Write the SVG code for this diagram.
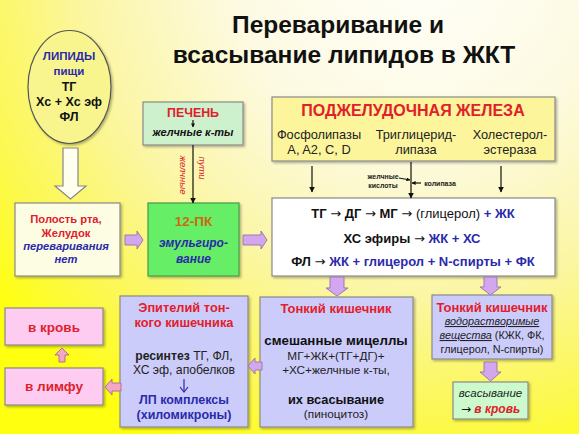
<svg xmlns="http://www.w3.org/2000/svg" width="579" height="434" viewBox="0 0 579 434">
<defs>
<radialGradient id="bg" gradientUnits="userSpaceOnUse" cx="420" cy="-40" r="540">
<stop offset="0" stop-color="#fffffa"/>
<stop offset="0.35" stop-color="#fdfae2"/>
<stop offset="0.62" stop-color="#fbf6a4"/>
<stop offset="0.85" stop-color="#fcf850"/>
<stop offset="1" stop-color="#ffff10"/>
</radialGradient>
<filter id="sh" x="-10%" y="-10%" width="125%" height="125%">
<feDropShadow dx="1.5" dy="1.5" stdDeviation="1" flood-color="#000" flood-opacity="0.3"/>
</filter>
<marker id="ah" viewBox="0 0 10 10" refX="9" refY="5" markerWidth="6" markerHeight="6" orient="auto" markerUnits="userSpaceOnUse">
<path d="M0,0 L10,5 L0,10 z" fill="#111"/>
</marker>
<marker id="ahs" viewBox="0 0 10 10" refX="9" refY="5" markerWidth="4" markerHeight="4" orient="auto" markerUnits="userSpaceOnUse">
<path d="M0,0 L10,5 L0,10 z" fill="#111"/>
</marker>
</defs>
<style>
text{font-family:"Liberation Sans",Arial,sans-serif;text-anchor:middle}
.b{font-weight:bold}
.i{font-style:italic}
.r{fill:#e0202c}
.bl{fill:#2a2aaa}
.k{fill:#111}
.ar{font-family:"DejaVu Sans",sans-serif;font-weight:normal}
.box{stroke:#8a8a8a;stroke-width:1.2;filter:url(#sh)}
.pa{fill:#d3a6f0;stroke:#9a7ab0;stroke-width:1}
.pk{fill:#f4a6c8;stroke:#b07090;stroke-width:1}
.ln{stroke:#111;stroke-width:1.2;fill:none}
</style>
<rect x="0" y="0" width="579" height="434" fill="url(#bg)"/>

<g id="title">
<text x="338" y="33" font-size="24.5" class="b" fill="#111">Переваривание и</text>
<text x="344" y="63" font-size="24.5" class="b" fill="#111">всасывание липидов в ЖКТ</text>
</g>

<g id="lipids">
<ellipse cx="69.5" cy="87" rx="41.5" ry="56.5" fill="#f9f58e" stroke="#555" stroke-width="1.2" filter="url(#sh)"/>
<text x="69" y="60" font-size="11.5" class="b bl">ЛИПИДЫ</text>
<text x="69" y="75" font-size="11.5" class="b bl">пищи</text>
<text x="69" y="91" font-size="12.5" class="b k">ТГ</text>
<text x="69" y="106" font-size="12.5" class="b k">Хс + Хс эф</text>
<text x="69" y="121" font-size="12.5" class="b k">ФЛ</text>
</g>

<g id="mouth">
<rect x="15" y="203" width="105" height="73" fill="#fdfde4" class="box"/>
<text x="66" y="223" font-size="11.2" class="b r">Полость рта,</text>
<text x="66" y="237" font-size="11.2" class="b r">Желудок</text>
<text x="66" y="250" font-size="11.2" class="b i bl">переваривания</text>
<text x="66" y="263" font-size="11.2" class="b i bl">нет</text>
</g>

<g id="liver">
<rect x="143" y="102" width="100" height="43" fill="#cdf0cd" class="box"/>
<text x="193" y="117" font-size="12.4" class="b r">ПЕЧЕНЬ</text>
<text x="193" y="136" font-size="11" class="b i k">желчные к-ты</text>
</g>

<g id="duodenum">
<rect x="148" y="203" width="91" height="73" fill="#66ee66" stroke="#4a9a4a" stroke-width="1.2" filter="url(#sh)"/>
<text x="193.5" y="226" font-size="13.5" class="b" fill="#cc6a10">12-ПК</text>
<text x="193.5" y="247" font-size="12" class="b i bl">эмульгиро-</text>
<text x="193.5" y="263" font-size="12" class="b i bl">вание</text>
</g>

<g id="pancreas">
<rect x="272" y="97" width="283" height="64" fill="#fcf59c" class="box"/>
<text x="413" y="116" font-size="16" class="b r">ПОДЖЕЛУДОЧНАЯ ЖЕЛЕЗА</text>
<text x="319" y="139" font-size="12.8" fill="#222">Фосфолипазы</text>
<text x="319" y="154" font-size="12.8" fill="#222">A, A2, C, D</text>
<text x="416" y="139" font-size="12.8" fill="#222">Триглицерид-</text>
<text x="416" y="154" font-size="12.8" fill="#222">липаза</text>
<text x="510" y="139" font-size="12.8" fill="#222">Холестерол-</text>
<text x="510" y="154" font-size="12.8" fill="#222">эстераза</text>
</g>

<g id="hydrolysis">
<rect x="272" y="198" width="283" height="78" fill="#ffffff" class="box"/>
<text x="413" y="218" font-size="13" class="b k">ТГ <tspan class="ar">→</tspan> ДГ <tspan class="ar">→</tspan> МГ <tspan class="ar">→</tspan> <tspan font-weight="normal">(глицерол)</tspan> <tspan class="bl">+ ЖК</tspan></text>
<text x="412" y="243" font-size="13" class="b k">ХС эфиры <tspan class="ar">→</tspan> <tspan class="bl">ЖК + ХС</tspan></text>
<text x="413" y="266" font-size="13" class="b k">ФЛ <tspan class="ar">→</tspan> <tspan class="bl">ЖК + глицерол + N-спирты + ФК</tspan></text>
</g>

<g id="epithelium">
<rect x="120" y="296" width="128" height="131" fill="#ccccfb" class="box"/>
<text x="184" y="312" font-size="12.8" class="b r">Эпителий тон-</text>
<text x="184" y="327" font-size="12.8" class="b r">кого кишечника</text>
<text x="184" y="360" font-size="12.2" fill="#222"><tspan font-weight="bold">ресинтез</tspan> ТГ, ФЛ,</text>
<text x="184" y="374" font-size="12.2" fill="#222">ХС эф, апобелков</text>
<text x="184" y="404" font-size="12.5" class="b bl">ЛП комплексы</text>
<text x="184" y="419" font-size="12.5" class="b bl">(хиломикроны)</text>
</g>

<g id="intestine-micelles">
<rect x="260" y="297" width="153" height="130" fill="#ccccfb" class="box"/>
<text x="336" y="313" font-size="13" class="b r">Тонкий кишечник</text>
<text x="336" y="345" font-size="13.3" class="b k">смешанные мицеллы</text>
<text x="336" y="360" font-size="11.8" fill="#222">МГ+ЖК+(ТГ+ДГ)+</text>
<text x="336" y="374" font-size="11.8" fill="#222">+ХС+желчные к-ты,</text>
<text x="336" y="404" font-size="12.8" class="b k">их всасывание</text>
<text x="336" y="418" font-size="11.8" fill="#222">(пиноцитоз)</text>
</g>

<g id="intestine-soluble">
<rect x="432" y="295" width="120" height="64" fill="#ccccfb" class="box"/>
<text x="492" y="312" font-size="13" class="b r">Тонкий кишечник</text>
<text x="492" y="325" font-size="10.8" class="i" fill="#222" text-decoration="underline">водорастворимые</text>
<text x="492" y="339" font-size="10.8" fill="#222"><tspan font-style="italic" text-decoration="underline">вещества</tspan> (КЖК, ФК,</text>
<text x="492" y="353" font-size="10.8" fill="#222">глицерол, N-спирты)</text>
</g>

<g id="absorption">
<rect x="453" y="382" width="75" height="37" fill="#ccfacc" class="box"/>
<text x="490.5" y="397" font-size="11.5" class="i" fill="#222">всасывание</text>
<text x="490.5" y="413" font-size="12" class="b i k"><tspan class="ar">→</tspan> <tspan class="r">в кровь</tspan></text>
</g>

<g id="blood">
<rect x="5" y="308" width="98" height="37" fill="#fdccf0" class="box"/>
<text x="54" y="332" font-size="13.5" class="b r">в кровь</text>
</g>

<g id="lymph">
<rect x="5" y="368" width="98" height="37" fill="#fdccf0" class="box"/>
<text x="54" y="391" font-size="13.5" class="b r">в лимфу</text>
</g>

<g id="connectors">
<path d="M63,148 H78 V186 H86 L70.5,199 L55,186 H63 Z" fill="#fffff0" stroke="#888" stroke-width="1.2"/>
<path class="pa" d="M125,235 H137 V231 L143,240 L137,249 V245 H125 Z"/>
<path class="pa" d="M243,235 H261 V231 L267,240 L261,249 V245 H243 Z"/>
<line class="ln" x1="193" y1="145" x2="193" y2="203" marker-end="url(#ah)"/>
<line class="ln" x1="193" y1="120" x2="193" y2="127" stroke-width="0.8" marker-end="url(#ahs)"/>
<text transform="translate(180,175) rotate(90)" font-size="9.5" class="i r">желчные</text>
<text transform="translate(199,168) rotate(90)" font-size="9.5" class="i r">пути</text>
<line class="ln" x1="312" y1="166" x2="312" y2="192" marker-end="url(#ah)"/>
<line class="ln" x1="411" y1="162" x2="411" y2="198" marker-end="url(#ah)"/>
<line class="ln" x1="501" y1="166" x2="501" y2="192" marker-end="url(#ah)"/>
<text x="383" y="179" font-size="7" class="b" fill="#222">желчные</text>
<text x="383" y="188" font-size="7" class="b" fill="#222">кислоты</text>
<line class="ln" x1="399" y1="178" x2="410" y2="180" stroke-width="0.8" marker-end="url(#ahs)"/>
<text x="440" y="186" font-size="7" class="b" fill="#222">колипаза</text>
<line class="ln" x1="421" y1="183" x2="412" y2="183" stroke-width="0.8" marker-end="url(#ahs)"/>
<path class="pa" d="M330,277 H344 V288 H348 L337,296 L326,288 H330 Z"/>
<path class="pa" d="M484,277 H497 V287 H501 L490.5,295 L480,287 H484 Z"/>
<path class="pa" d="M484,362 H497 V372 H501 L490.5,381 L480,372 H484 Z"/>
<path class="pa" d="M262,362 H255 V358 L248,366 L255,374 V370 H262 Z"/>
<line x1="184" y1="379" x2="184" y2="391" stroke="#2a2aaa" stroke-width="1.2"/>
<path d="M180,387 L184,392 L188,387" fill="none" stroke="#2a2aaa" stroke-width="1.2"/>
<path class="pk" d="M121,383 H112 V379 L105,387 L112,395 V391 H121 Z"/>
<path class="pk" d="M59,362 V355 H55 L62,348 L69,355 H65 V362 Z"/>
</g>
</svg>
